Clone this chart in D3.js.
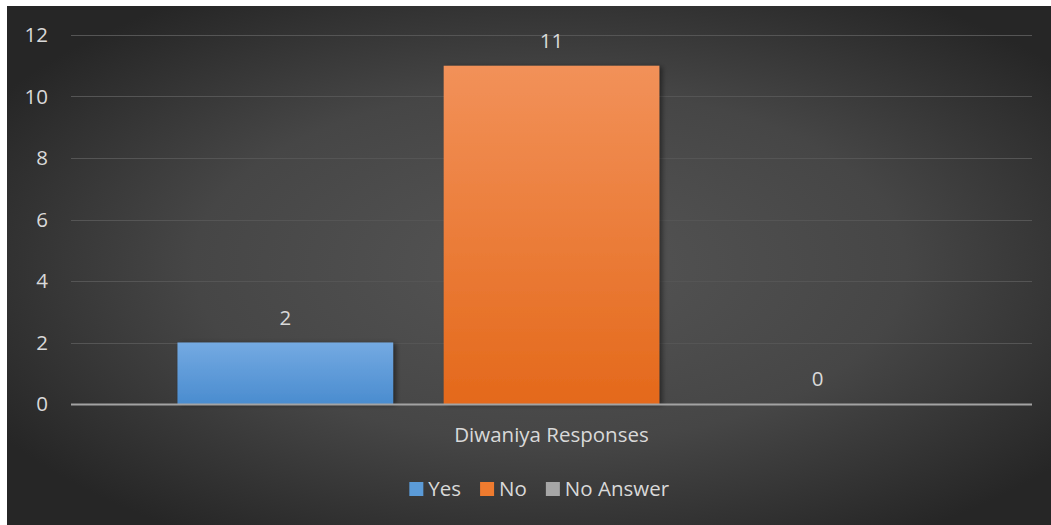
<!DOCTYPE html>
<html>
<head>
<meta charset="utf-8">
<script src="https://cdn.jsdelivr.net/npm/d3@7"></script>
<style>
  html, body { margin: 0; padding: 0; background: #ffffff; }
  svg { display: block; }
  text { font-family: "Open Sans", "Noto Sans", sans-serif; }
</style>
</head>
<body>
<svg id="chart" width="1051" height="525"></svg>
<script>
// Survey answers for the single category
const category = "Diwaniya Responses";
const seriesNames = ["Yes", "No", "No Answer"];
const seriesValues = [2, 11, 0];
const yTicks = [0, 2, 4, 6, 8, 10, 12];

const seriesColors = {
  "Yes": ["#74aae2", "#4a8ccf"],
  "No": ["#f29159", "#e4691b"],
  "No Answer": ["#b4b4b4", "#979797"]
};
const legendColors = { "Yes": "#5b9bd8", "No": "#ef7b2f", "No Answer": "#a6a6a6" };

const FS = "20.5px";
const svg = d3.select("#chart");
const W = 1051, H = 525;
const defs = svg.append("defs");

// Dark panel with a soft radial light in the middle
const bg = defs.append("radialGradient").attr("id", "bgGrad")
  .attr("cx", "52%").attr("cy", "50%").attr("r", "62%");
bg.append("stop").attr("offset", "0%").attr("stop-color", "#555555");
bg.append("stop").attr("offset", "55%").attr("stop-color", "#464646");
bg.append("stop").attr("offset", "100%").attr("stop-color", "#262626");

seriesNames.forEach((name, i) => {
  const g = defs.append("linearGradient").attr("id", "barGrad" + i)
    .attr("x1", 0).attr("y1", 0).attr("x2", 0).attr("y2", 1);
  g.append("stop").attr("offset", "0%").attr("stop-color", seriesColors[name][0]);
  g.append("stop").attr("offset", "100%").attr("stop-color", seriesColors[name][1]);
});

const shadow = defs.append("filter").attr("id", "barShadow")
  .attr("x", "-10%").attr("y", "-10%").attr("width", "130%").attr("height", "120%");
shadow.append("feDropShadow").attr("dx", 3).attr("dy", 1).attr("stdDeviation", 2.5)
  .attr("flood-color", "#000").attr("flood-opacity", 0.45);

svg.append("rect").attr("x", 7).attr("y", 6).attr("width", W - 7).attr("height", H - 6)
  .attr("fill", "url(#bgGrad)");

const plot = { left: 71, right: 1032, top: 35, bottom: 404 };

const y = d3.scaleLinear().domain([0, 12]).range([plot.bottom, plot.top]);
const x0 = d3.scaleBand().domain([category]).range([plot.left, plot.right]).paddingInner(0).paddingOuter(0);
const x1 = d3.scaleBand().domain(seriesNames).range([0, x0.bandwidth()])
  .paddingInner(0.19).paddingOuter(0.4);

// Gridlines
svg.append("g").selectAll("line").data(yTicks.filter(t => t > 0)).join("line")
  .attr("x1", plot.left).attr("x2", plot.right)
  .attr("y1", d => Math.round(y(d)) + 0.5).attr("y2", d => Math.round(y(d)) + 0.5)
  .attr("stroke", "#555555").attr("stroke-width", 1.2);

// Y axis labels
const yAxis = d3.axisLeft(y).tickValues(yTicks).tickSize(0).tickPadding(0);
const yg = svg.append("g").attr("transform", `translate(${plot.left - 23},0)`).call(yAxis);
yg.select(".domain").remove();
yg.selectAll("text").attr("fill", "#d9d9d9").attr("font-size", FS)
  .attr("font-family", "'Open Sans', sans-serif");

// Bars
const barsG = svg.append("g").attr("transform", `translate(${x0(category)},0)`);
barsG.selectAll("rect").data(seriesNames.map((n, i) => ({ name: n, value: seriesValues[i], i })))
  .join("rect")
  .attr("x", d => x1(d.name))
  .attr("y", d => y(d.value))
  .attr("width", x1.bandwidth())
  .attr("height", d => y(0) - y(d.value))
  .attr("fill", d => `url(#barGrad${d.i})`)
  .attr("filter", "url(#barShadow)");

// Value labels
barsG.selectAll("text").data(seriesNames.map((n, i) => ({ name: n, value: seriesValues[i] })))
  .join("text")
  .attr("x", d => x1(d.name) + x1.bandwidth() / 2)
  .attr("y", d => y(d.value) - 18)
  .attr("text-anchor", "middle")
  .attr("fill", "#d9d9d9").attr("font-size", FS)
  .text(d => d.value);

// Baseline
svg.append("line").attr("x1", plot.left).attr("x2", plot.right)
  .attr("y1", y(0) + 0.5).attr("y2", y(0) + 0.5)
  .attr("stroke", "#a3a3a3").attr("stroke-width", 2);

// Category axis label
const xAxis = d3.axisBottom(x0).tickSize(0).tickPadding(0);
const xg = svg.append("g").attr("transform", `translate(0,${plot.bottom + 23})`).call(xAxis);
xg.select(".domain").remove();
xg.selectAll("text").attr("fill", "#d9d9d9").attr("font-size", FS)
  .attr("font-family", "'Open Sans', sans-serif").attr("dy", "0.71em");

// Legend
const legend = svg.append("g");
const items = legend.selectAll("g").data(seriesNames).join("g");
items.append("rect").attr("width", 14).attr("height", 14).attr("y", -7)
  .attr("fill", d => legendColors[d]);
items.append("text").attr("x", 19).attr("dy", "0.35em")
  .attr("fill", "#d9d9d9").attr("font-size", FS).text(d => d);
let lx = 0;
items.each(function () {
  d3.select(this).attr("transform", `translate(${lx},0)`);
  lx += this.getBBox().width + 19;
});
const totalW = lx - 19;
legend.attr("transform", `translate(${(plot.left + plot.right) / 2 - totalW / 2 - 12},489)`);
</script>
</body>
</html>
